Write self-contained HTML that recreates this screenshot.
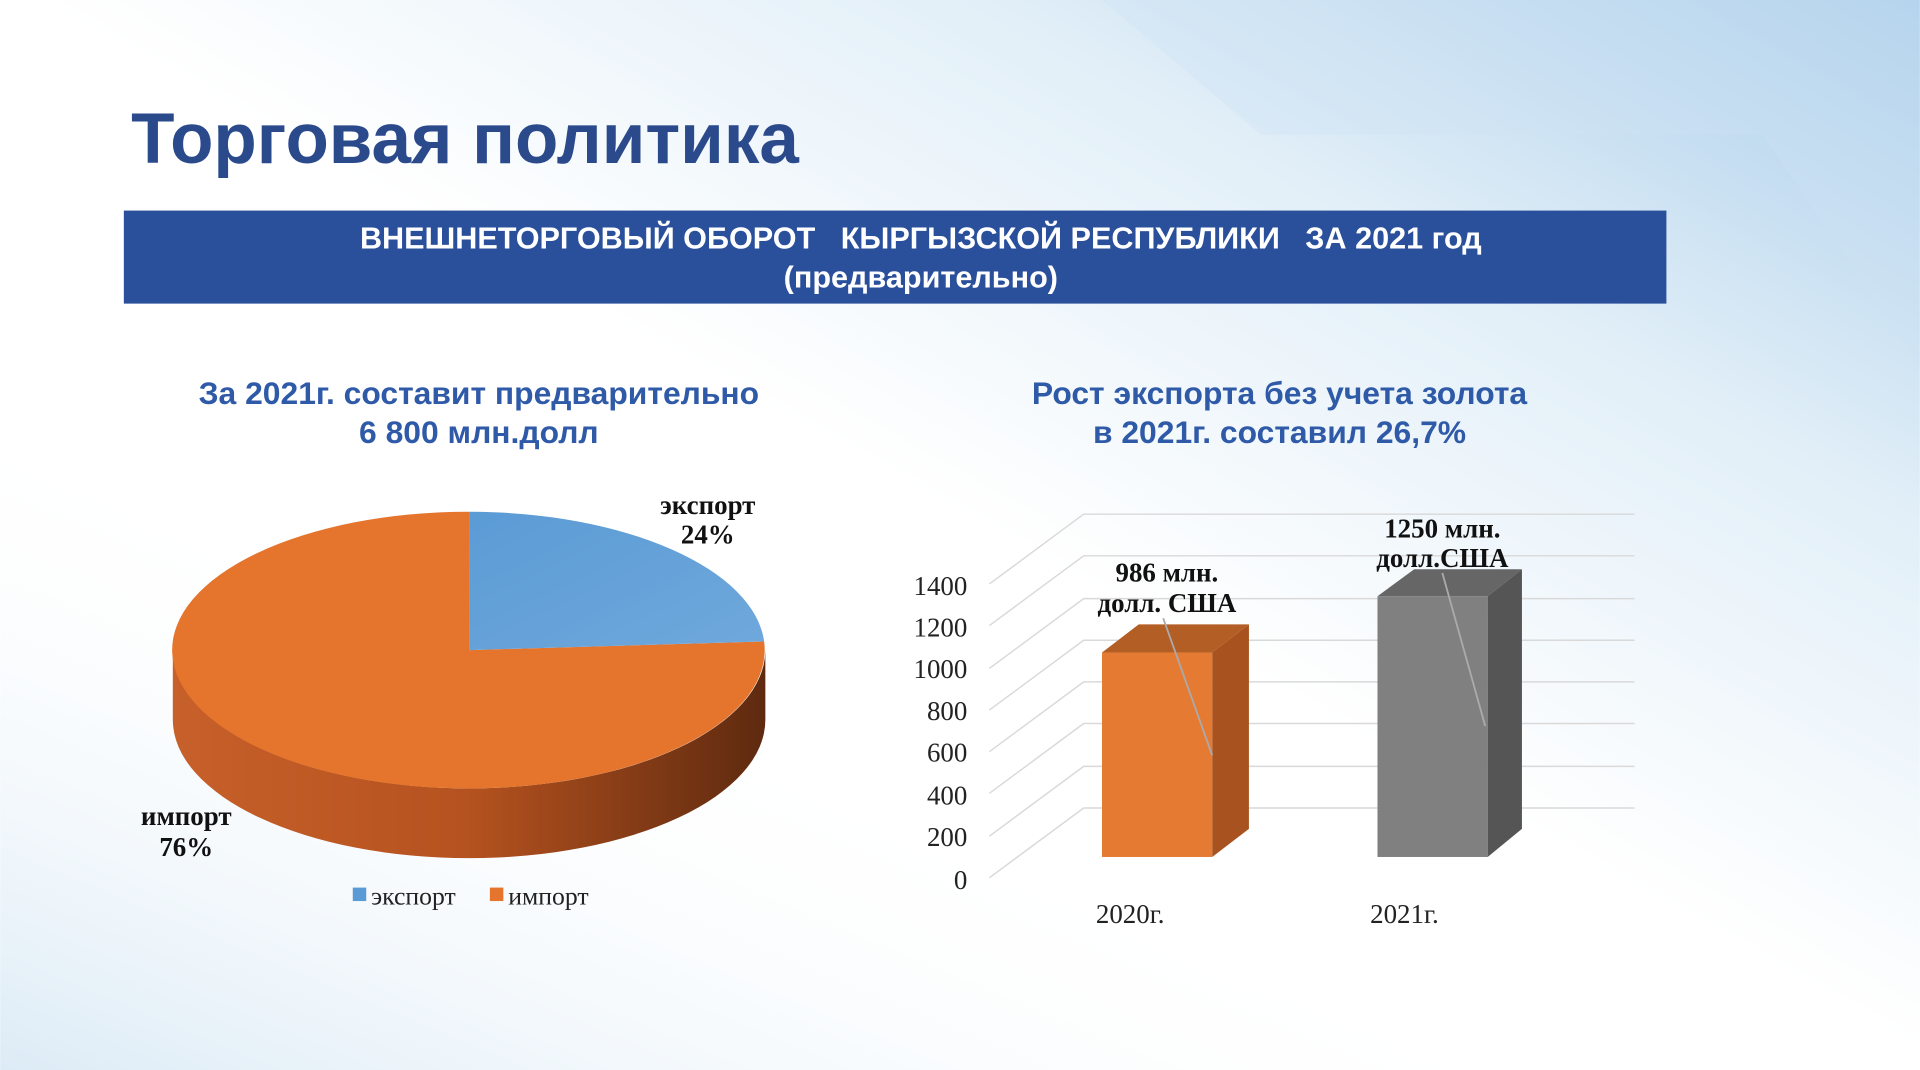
<!DOCTYPE html>
<html><head><meta charset="utf-8"><style>
html,body{margin:0;padding:0;width:1920px;height:1070px;overflow:hidden;background:#fff}
svg{display:block}
</style></head><body>
<svg width="1920" height="1070" viewBox="0 0 1568 874" xmlns="http://www.w3.org/2000/svg">
<defs>
<linearGradient id="bg1" x1="1" y1="0" x2="0.3" y2="0.7">
<stop offset="0" stop-color="#a9cdea"/><stop offset="0.35" stop-color="#e2eff8"/><stop offset="0.7" stop-color="#ffffff"/></linearGradient>
<linearGradient id="bg2" x1="0" y1="1" x2="0.3" y2="0.6">
<stop offset="0" stop-color="#dcebf6"/><stop offset="1" stop-color="#ffffff" stop-opacity="0"/></linearGradient>
<linearGradient id="side" x1="0" y1="0" x2="1" y2="0">
<stop offset="0" stop-color="#c7602a"/><stop offset="0.5" stop-color="#b5521f"/><stop offset="1" stop-color="#5e2a0f"/></linearGradient>
<linearGradient id="exp" x1="0" y1="0" x2="1" y2="1">
<stop offset="0" stop-color="#5b9bd5"/><stop offset="1" stop-color="#6fa8dc"/></linearGradient>
</defs>
<rect width="1568" height="874" fill="#fff"/>
<rect width="1568" height="874" fill="url(#bg1)"/>
<rect width="1568" height="874" fill="url(#bg2)"/>
<polygon points="900,0 1568,0 1568,300 1440,110 1030,110" fill="#cfe3f3" opacity="0.35"/>
<text x="107" y="133" font-family="Liberation Sans, sans-serif" font-weight="bold" font-size="58" fill="#2a4a8c">Торговая политика</text>
<rect x="101" y="172" width="1260" height="76" fill="#2b509b"/>
<text x="752" y="203" text-anchor="middle" font-family="Liberation Sans, sans-serif" font-weight="bold" font-size="25" fill="#fff" xml:space="preserve">ВНЕШНЕТОРГОВЫЙ ОБОРОТ   КЫРГЫЗСКОЙ РЕСПУБЛИКИ   ЗА 2021 год</text>
<text x="752" y="235" text-anchor="middle" font-family="Liberation Sans, sans-serif" font-weight="bold" font-size="25" fill="#fff">(предварительно)</text>
<g font-family="Liberation Sans, sans-serif" font-weight="bold" font-size="26" fill="#2f5aa8" text-anchor="middle">
<text x="391" y="330">За 2021г. составит предварительно</text>
<text x="391" y="362">6 800 млн.долл</text>
<text x="1045" y="330">Рост экспорта без учета золота</text>
<text x="1045" y="362">в 2021г. составил 26,7%</text>
</g>
<!-- pie -->
<path d="M141,531 A242,113 0 0 0 625,531 L625,588 A242,113 0 0 1 141,588 Z" fill="url(#side)"/>
<path d="M383,531 L383,418 A242,113 0 1 0 624,524 Z" fill="#e5742d"/>
<path d="M383,531 L383,418 A242,113 0 0 1 624,524 Z" fill="url(#exp)"/>
<g font-family="Liberation Serif, serif" font-weight="bold" font-size="22" fill="#111" text-anchor="middle">
<text x="578" y="420">экспорт</text><text x="578" y="444">24%</text>
<text x="152" y="674">импорт</text><text x="152" y="699">76%</text>
</g>
<rect x="288" y="725" width="11" height="11" fill="#5b9bd5"/>
<text x="303" y="739" font-family="Liberation Serif, serif" font-size="21" fill="#222">экспорт</text>
<rect x="400" y="725" width="11" height="11" fill="#e5742d"/>
<text x="415" y="739" font-family="Liberation Serif, serif" font-size="21" fill="#222">импорт</text>
<!-- bar chart grid -->
<g stroke="#d9d9d9" stroke-width="1.2" fill="none">
<path d="M808,717 L885,660 L1335,660"/>
<path d="M808,683 L885,626 L1335,626"/>
<path d="M808,648 L885,591 L1335,591"/>
<path d="M808,614 L885,557 L1335,557"/>
<path d="M808,580 L885,523 L1335,523"/>
<path d="M808,546 L885,489 L1335,489"/>
<path d="M808,511 L885,454 L1335,454"/>
<path d="M808,477 L885,420 L1335,420"/>
</g>
<g font-family="Liberation Serif, serif" font-size="22" fill="#222" text-anchor="end">
<text x="790" y="726">0</text><text x="790" y="691">200</text><text x="790" y="657">400</text>
<text x="790" y="622">600</text><text x="790" y="588">800</text><text x="790" y="554">1000</text>
<text x="790" y="520">1200</text><text x="790" y="486">1400</text>
</g>
<!-- bars -->
<polygon points="900,533 930,510 1020,510 990,533" fill="#b35e25"/>
<polygon points="990,533 1020,510 1020,677 990,700" fill="#a8531f"/>
<rect x="900" y="533" width="90" height="167" fill="#e57a33"/>
<polygon points="1125,487 1155,465 1243,465 1215,487" fill="#666"/>
<polygon points="1215,487 1243,465 1243,677 1215,700" fill="#555"/>
<rect x="1125" y="487" width="90" height="213" fill="#808080"/>
<line x1="950" y1="505" x2="990" y2="617" stroke="#aaa" stroke-width="1.5"/>
<line x1="1178" y1="468" x2="1213" y2="593" stroke="#aaa" stroke-width="1.5"/>
<g font-family="Liberation Serif, serif" font-weight="bold" font-size="22" fill="#111" text-anchor="middle">
<text x="953" y="475">986 млн.</text><text x="953" y="500">долл. США</text>
<text x="1178" y="439">1250 млн.</text><text x="1178" y="463">долл.США</text>
</g>
<g font-family="Liberation Serif, serif" font-size="22" fill="#222" text-anchor="middle">
<text x="923" y="754">2020г.</text><text x="1147" y="754">2021г.</text>
</g>
</svg>
</body></html>
